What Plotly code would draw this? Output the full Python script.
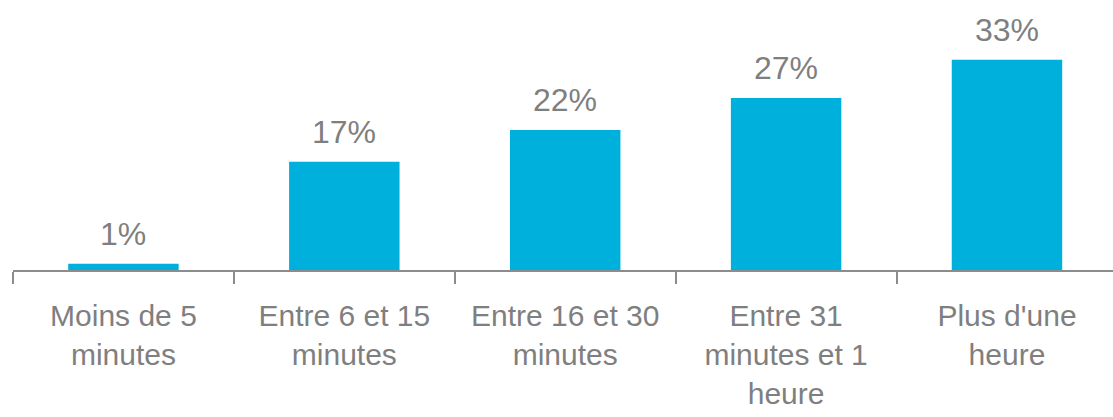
import plotly.graph_objects as go

categories = [
    "Moins de 5<br>minutes",
    "Entre 6 et 15<br>minutes",
    "Entre 16 et 30<br>minutes",
    "Entre 31<br>minutes et 1<br>heure",
    "Plus d'une<br>heure",
]
values = [1, 17, 22, 27, 33]
labels = [f"{v}%" for v in values]

BAR = "#00B0DC"
TXT = "#7F7F7F"
AX = "#8C8C8C"

fig = go.Figure()
fig.add_trace(go.Bar(x=categories, y=values, marker=dict(color=BAR, line=dict(width=0)),
                     hoverinfo="skip"))

for c, v, t in zip(categories, values, labels):
    fig.add_annotation(x=c, y=v, text=t, showarrow=False, yanchor="bottom", yshift=10,
                       font=dict(family="Liberation Sans, Arial", size=32, color=TXT))

fig.update_layout(
    width=1113, height=417,
    margin=dict(l=13, r=0, t=0, b=147),
    paper_bgcolor="white", plot_bgcolor="white",
    bargap=0.5, showlegend=False,
    xaxis=dict(type="category", range=[-0.5, 4.48], showline=True, linecolor=AX, linewidth=2,
               ticks="outside", tickson="boundaries", ticklen=12, tickcolor=AX, tickwidth=2,
               ticklabelstandoff=18,
               tickfont=dict(family="Liberation Sans, Arial", size=30, color=TXT),
               showgrid=False, zeroline=False),
    yaxis=dict(range=[0, 42.4], visible=False, showgrid=False, zeroline=False),
)

fig.write_html("out.html")
